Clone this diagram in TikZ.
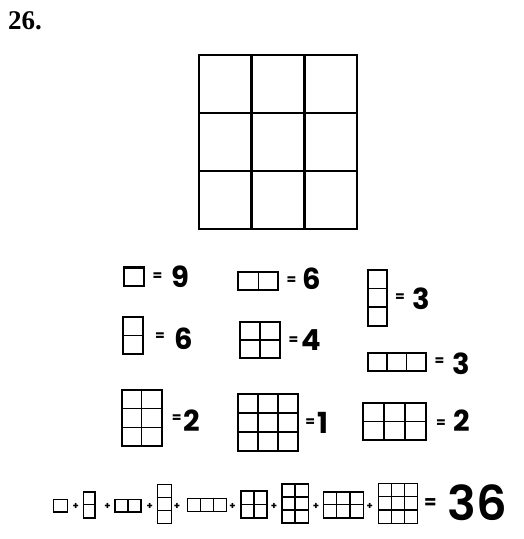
\documentclass[tikz,border=0pt]{standalone}
\usepackage{fontspec}
\setmainfont{Liberation Serif}
\newfontfamily\comic{Poppins}
\newfontfamily\comicsb{Poppins SemiBold}
\tikzset{
  outerln/.style={line width=2.3pt,black},
  innerln/.style={line width=1.4pt,black},
  bigln/.style={line width=2.4pt,black},
  smallout/.style={line width=1.6pt,black},
  smallin/.style={line width=1.1pt,black},
  dig/.style={inner sep=0pt,font=\comic\bfseries\fontsize{29}{29}\selectfont},
  eqs/.style={inner sep=0pt,font=\comic\bfseries\fontsize{14}{14}\selectfont},
  pls/.style={inner sep=0pt,font=\comic\bfseries\fontsize{10}{10}\selectfont},
}
% #1 outer style, #2 inner style, #3 x, #4 y, #5 w, #6 h, #7 cols, #8 rows
\newcommand\blk[8]{%
  \begin{scope}[shift={(#3,#4)}]
    \pgfmathtruncatemacro\nca{#7-1}%
    \pgfmathtruncatemacro\nra{#8-1}%
    \ifnum#7>1
      \foreach \i in {1,...,\nca}{\draw[#2] ({\i*#5/#7},0) -- ({\i*#5/#7},#6);}%
    \fi
    \ifnum#8>1
      \foreach \j in {1,...,\nra}{\draw[#2] (0,{\j*#6/#8}) -- (#5,{\j*#6/#8});}%
    \fi
    \draw[#1] (0,0) rectangle (#5,#6);
  \end{scope}}
\begin{document}
\begin{tikzpicture}[x=1pt,y=-1pt]
\useasboundingbox (0,0) rectangle (523,539);
% title
\node[anchor=base west,inner sep=0pt,font=\bfseries\fontsize{27}{27}\selectfont] (t26) at (8,29) {26.};
% big grid
\blk{bigln}{bigln}{199}{55}{158}{174}{3}{3}
% middle section
\blk{outerln}{innerln}{124}{267.5}{20}{18.5}{1}{1}
\node[eqs] (e1) at (157.5,276.7) {=};
\node[dig] (d1) at (180.3,277) {9};
\blk{outerln}{innerln}{123.3}{316.7}{20}{37.3}{1}{2}
\node[eqs] (e2) at (160,337) {=};
\node[dig] (d2) at (183.3,338.7) {6};
\blk{outerln}{innerln}{238.3}{271.7}{40}{18.3}{2}{1}
\node[eqs] (e3) at (291.5,280.7) {=};
\node[dig] (d3) at (312,278.7) {6};
\blk{outerln}{innerln}{240}{321.7}{40}{36.6}{2}{2}
\node[eqs] (e4) at (293.5,341) {=};
\node[dig] (d4) at (311,340) {4};
\blk{outerln}{innerln}{367.7}{270}{19.6}{55.7}{1}{3}
\node[eqs] (e5) at (400,297.3) {=};
\node[dig] (d5) at (421.7,298.3) {3};
\blk{outerln}{innerln}{367.7}{353.3}{58}{17.4}{3}{1}
\node[eqs] (e6) at (439.5,361.7) {=};
\node[dig] (d6) at (461.7,363.5) {3};
\blk{outerln}{innerln}{121.7}{390}{40}{56}{2}{3}
\node[eqs] (e7) at (176.7,418.3) {=};
\node[dig] (d7) at (192.2,420.5) {2};
\blk{outerln}{innerln}{237.7}{394}{60.6}{56.7}{3}{3}
\node[eqs] (e8) at (310.3,422.7) {=};
\node[dig] (d8) at (323.3,423) {1};
\blk{outerln}{innerln}{363.3}{402.7}{62.4}{37.3}{3}{2}
\node[eqs] (e9) at (441,423.3) {=};
\node[dig] (d9) at (461.7,420.5) {2};
% bottom sum
\blk{smallout}{smallin}{53.3}{499.5}{14}{12.5}{1}{1}
\node[pls] (p1) at (75.8,506) {+};
\blk{smallout}{smallin}{83.3}{491.7}{11.5}{26}{1}{2}
\node[pls] (p2) at (107.5,506) {+};
\blk{smallout}{smallin}{115}{499.5}{26}{12.5}{2}{1}
\node[pls] (p3) at (149.7,506) {+};
\blk{smallout}{smallin}{157.3}{484.3}{14}{39}{1}{3}
\node[pls] (p4) at (177,506) {+};
\blk{smallout}{smallin}{187.3}{498.5}{39}{13}{3}{1}
\node[pls] (p5) at (232.5,506) {+};
\blk{smallout}{smallin}{241}{491}{26}{27}{2}{2}
\node[pls] (p6) at (274,506) {+};
\blk{smallout}{smallin}{281.7}{484}{26.6}{39}{2}{3}
\node[pls] (p7) at (316,506) {+};
\blk{smallout}{smallin}{323.3}{491.7}{40}{26}{3}{2}
\node[pls] (p8) at (369.7,506) {+};
\blk{smallout}{smallin}{378.3}{483.3}{39}{40}{3}{3}
\node[inner sep=0pt,font=\comic\bfseries\fontsize{18}{18}\selectfont] (e10) at (430.5,503.3) {=};
\node[inner sep=0pt,font=\comicsb\fontsize{48}{48}\selectfont] (d10) at (477,502.8) {36};
\end{tikzpicture}
\end{document}
